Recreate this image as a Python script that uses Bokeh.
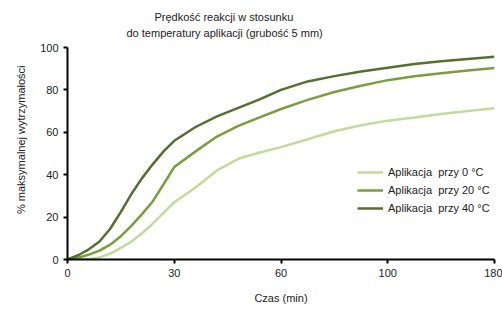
import numpy as np
from bokeh.plotting import figure
from bokeh.models import Legend, LegendItem, FixedTicker, Title
from bokeh.embed import file_html
from bokeh.resources import INLINE

# Data (time in minutes; axis ticks are equally spaced categories)
tick_minutes = [0, 30, 60, 100, 180]
tick_labels = ["0", "30", "60", "100", "180"]

time_min = [0, 3, 6, 9, 12, 15, 18, 21, 24, 27, 30, 36, 42, 48, 54, 60,
            70, 80, 90, 100, 120, 140, 160, 180]
temp_0 = [0, 0, 0.2, 1, 2.8, 5.5, 8.5, 12.5, 17, 22, 27, 34, 42, 47.5, 50.5, 53,
          56.7, 60.5, 63.3, 65.5, 67, 68.6, 70.1, 71.4]
temp_20 = [0, 0.8, 2.3, 4.2, 7, 11, 16, 21.5, 27.5, 35.5, 43.6, 51, 58, 63, 67, 71,
           75.3, 79, 82, 84.6, 86.4, 87.9, 89.2, 90.3]
temp_40 = [0, 2, 4.8, 8.5, 14.5, 22.5, 31, 38.5, 45, 51, 56, 62.5, 67.5, 71.5, 75.5, 80,
           84, 86.5, 88.7, 90.5, 92.2, 93.5, 94.6, 95.6]

series_names = ["Aplikacja  przy 0 °C", "Aplikacja  przy 20 °C", "Aplikacja  przy 40 °C"]
colors = ["#c4da9c", "#7a9e3c", "#566e2e"]
title_lines = ["Prędkość reakcji w stosunku", "do temperatury  aplikacji  (grubość  5 mm)"]

# map minutes onto equally spaced axis positions
tick_pos = list(range(len(tick_minutes)))
x = np.interp(time_min, tick_minutes, tick_pos)

FONT = "Liberation Sans"
TXT = "#222222"

p = figure(width=502, height=309, output_backend="svg", toolbar_location=None,
           x_range=(0, 4), y_range=(0, 100),
           min_border_left=67, min_border_right=8, min_border_top=47, min_border_bottom=50)
p.outline_line_color = None
p.grid.visible = False
p.background_fill_color = "white"

renderers = []
for ys, c in zip([temp_0, temp_20, temp_40], colors):
    r = p.line(x, ys, line_color=c, line_width=2.5)
    renderers.append(r)

p.xaxis.ticker = FixedTicker(ticks=tick_pos)
p.xaxis.major_label_overrides = {i: t for i, t in zip(tick_pos, tick_labels)}
p.yaxis.ticker = FixedTicker(ticks=[0, 20, 40, 60, 80, 100])

for ax in (p.xaxis[0], p.yaxis[0]):
    ax.axis_line_color = "black"
    ax.axis_line_width = 2
    ax.major_tick_line_color = "black"
    ax.major_tick_line_width = 2
    ax.major_tick_out = 4
    ax.major_tick_in = 0
    ax.minor_tick_line_color = None
    ax.major_label_text_font = FONT
    ax.major_label_text_font_size = "11px"
    ax.major_label_text_color = TXT
    ax.axis_label_text_font = FONT
    ax.axis_label_text_font_size = "11px"
    ax.axis_label_text_font_style = "normal"
    ax.axis_label_text_color = TXT

p.xaxis.axis_label = "Czas (min)"
p.xaxis.axis_label_standoff = 12
# leading no-break spaces lift the rotated label a little above the frame's middle
p.yaxis.axis_label = "\u00a0" * 10 + "% maksymalnej  wytrzymałości"
p.yaxis.axis_label_standoff = 10

legend = Legend(items=[LegendItem(label=n, renderers=[r]) for n, r in zip(series_names, renderers)],
                location=(290, 42), border_line_color=None, background_fill_alpha=0,
                label_text_font=FONT, label_text_font_size="11px", label_text_color=TXT,
                glyph_width=26, glyph_height=18, spacing=0, label_height=18, padding=0, margin=0)
p.add_layout(legend, "center")

# titles: the first added sits next to the frame
for t, off, stand in [(title_lines[1], 59, 18), (title_lines[0], 87, -14)]:
    p.add_layout(Title(text=t, align="left", offset=off, standoff=stand,
                       text_font=FONT, text_font_size="11px", text_font_style="normal",
                       text_color=TXT), "above")

open("out.html", "w").write(file_html(p, INLINE))
